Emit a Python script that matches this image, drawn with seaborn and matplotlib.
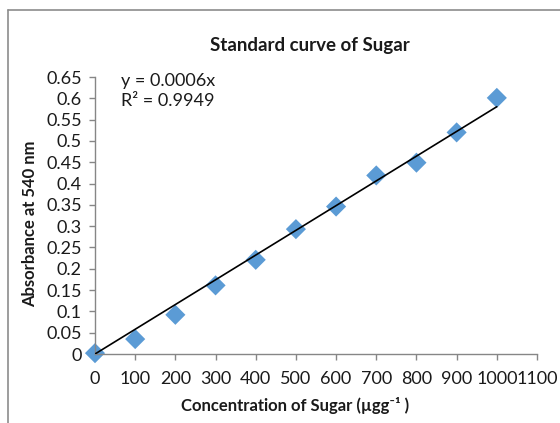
import numpy as np
import pandas as pd
import matplotlib
matplotlib.use("Agg")
import matplotlib.pyplot as plt
import seaborn as sns
from matplotlib.lines import Line2D

# ---- data ----
concentration = [0, 100, 200, 300, 400, 500, 600, 700, 800, 900, 1000]
absorbance = [0.002, 0.035, 0.092, 0.161, 0.221, 0.293, 0.346, 0.419, 0.449, 0.520, 0.601]
x_ticks = [0, 100, 200, 300, 400, 500, 600, 700, 800, 900, 1000, 1100]
y_ticks = [0, 0.05, 0.1, 0.15, 0.2, 0.25, 0.3, 0.35, 0.4, 0.45, 0.5, 0.55, 0.6, 0.65]
y_tick_labels = ["0", "0.05", "0.1", "0.15", "0.2", "0.25", "0.3", "0.35", "0.4",
                 "0.45", "0.5", "0.55", "0.6", "0.65"]
title = "Standard curve of Sugar"
xlabel = "Concentration of Sugar (µgg⁻¹ )"
ylabel = "Absorbance at 540 nm"
eq_text = "y = 0.0006x\nR² = 0.9949"

df = pd.DataFrame({"conc": concentration, "abs": absorbance})

sns.set_theme(style="white")
plt.rcParams["font.family"] = ["Lato", "DejaVu Sans"]

fig = plt.figure(figsize=(5.6, 4.23), dpi=100)
ax = fig.add_axes([95 / 560, 1 - 354 / 423, (537 - 95) / 560, (354 - 77) / 423])

# trendline through origin (least squares from the data)
xa = np.array(concentration, dtype=float)
ya = np.array(absorbance, dtype=float)
slope = (xa * ya).sum() / (xa * xa).sum()
line_x = np.array([xa.min(), xa.max()])
ax.plot(line_x, slope * line_x, color="black", lw=1.2, zorder=3)

sns.scatterplot(data=df, x="conc", y="abs", marker="D", s=105, color="#5B9BD5",
                edgecolor="none", ax=ax, zorder=2, clip_on=False)

ax.set_xlim(0, 1100)
ax.set_ylim(0, 0.65)
ax.set_xticks(x_ticks)
ax.set_xticklabels([str(t) for t in x_ticks])
ax.set_yticks(y_ticks)
ax.set_yticklabels(y_tick_labels)

for s in ["top", "right"]:
    ax.spines[s].set_visible(False)
for s in ["left", "bottom"]:
    ax.spines[s].set_color("#868686")
    ax.spines[s].set_linewidth(1.0)

ax.tick_params(axis="both", which="major", direction="out", length=4.5, width=1.0,
               color="#868686", labelsize=13, labelcolor="#1a1a1a",
               bottom=True, left=True)
ax.tick_params(axis="x", pad=8)
ax.tick_params(axis="y", pad=5)

ax.set_xlabel(xlabel, fontsize=12, fontweight="bold", color="#1a1a1a")
ax.set_ylabel(ylabel, fontsize=12, fontweight="bold", color="#1a1a1a")
ax.xaxis.set_label_coords((295 - 95) / 442, -(397 - 354) / 277)
ax.yaxis.set_label_coords(-(95 - 38) / 442, (354 - 224) / 277)

fig.text(310 / 560, 1 - 45 / 423, title, ha="center", va="center",
         fontsize=13.5, fontweight="bold", color="#1a1a1a")

ax.text((121 - 95) / 442, (354 - 73) / 277, eq_text, transform=ax.transAxes,
        ha="left", va="top", fontsize=13, color="#1a1a1a", linespacing=1.3)

# chart area border
fig.add_artist(Line2D([8 / 560, 8 / 560], [0, 1 - 10.5 / 423], color="#8c8c8c",
                      lw=1.2, transform=fig.transFigure))
fig.add_artist(Line2D([8 / 560, 1], [1 - 10.5 / 423, 1 - 10.5 / 423], color="#8c8c8c",
                      lw=1.2, transform=fig.transFigure))

fig.savefig("out.png", dpi=100)
